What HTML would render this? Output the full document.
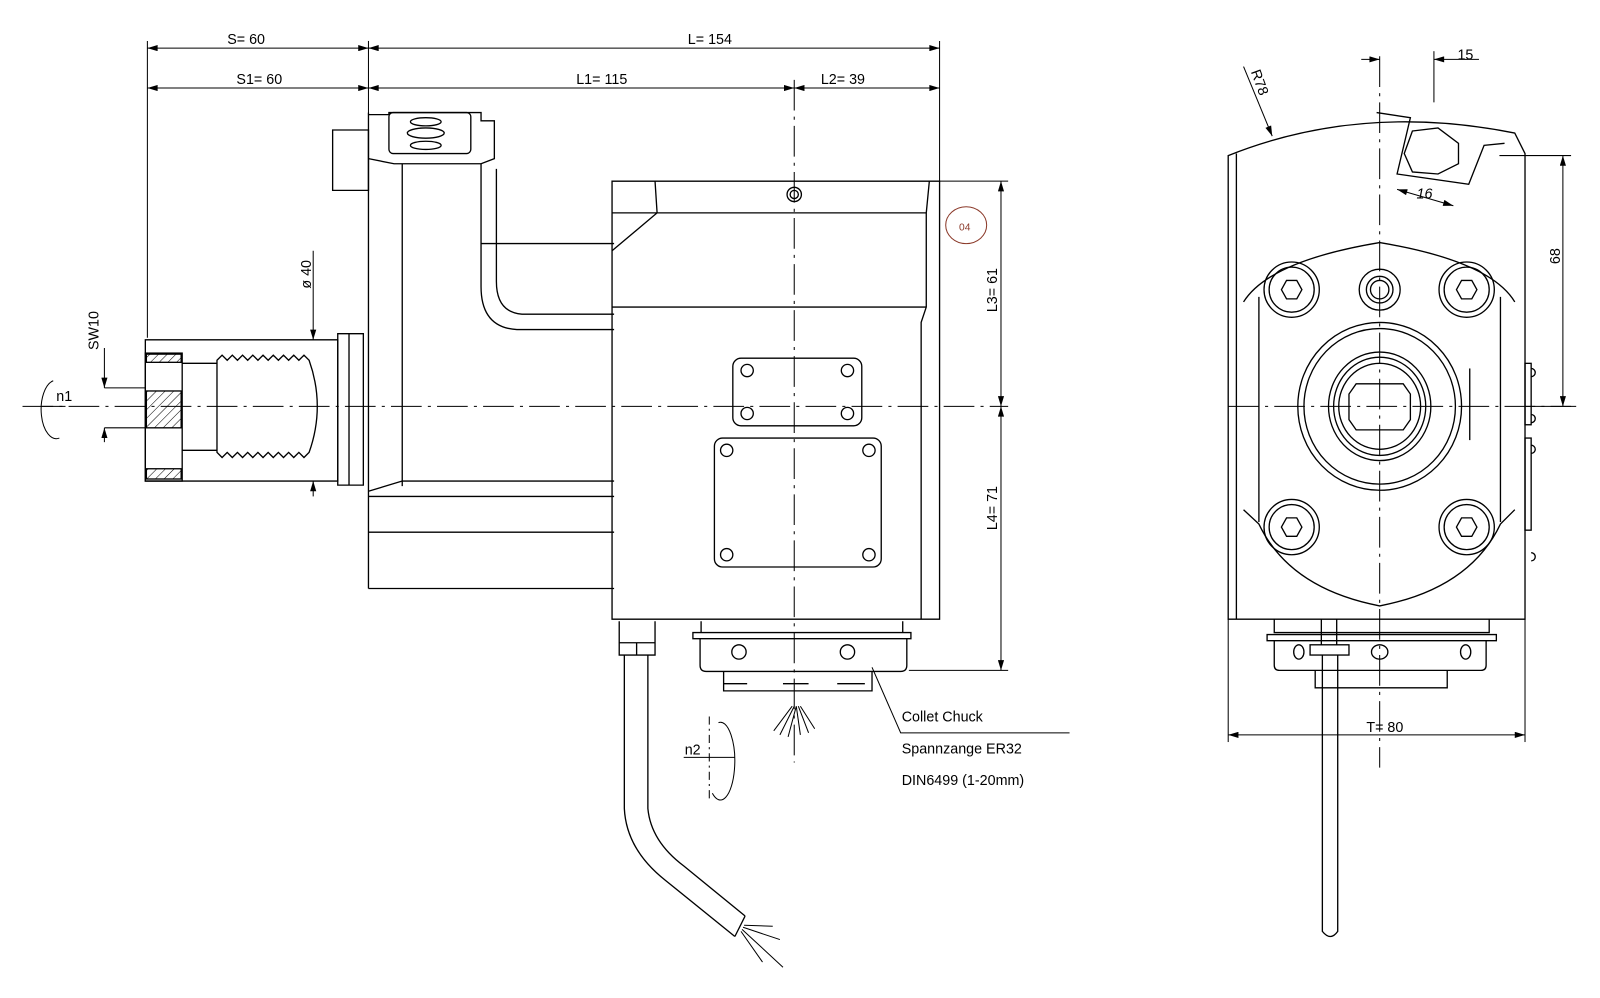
<!DOCTYPE html>
<html><head><meta charset="utf-8"><style>
html,body{margin:0;padding:0;background:#fff;}
svg{display:block;font-family:"Liberation Sans",sans-serif;}
</style></head><body>
<svg width="1600" height="998" viewBox="0 0 1600 998" xmlns="http://www.w3.org/2000/svg">
<defs>
<marker id="a" viewBox="0 0 10 6" refX="10" refY="3" markerWidth="14" markerHeight="6" orient="auto-start-reverse" markerUnits="userSpaceOnUse"><path d="M0,0L10,3L0,6z" fill="#000"/></marker>
<pattern id="h" width="6" height="6" patternUnits="userSpaceOnUse" patternTransform="rotate(45)"><line x1="0" y1="0" x2="0" y2="6" stroke="#000" stroke-width="1"/></pattern>
</defs>
<g transform="scale(1.0235)">
<g fill="none" stroke="#000" stroke-width="1.3">
<line x1="144" y1="40" x2="144" y2="330" stroke-width="1"/>
<line x1="360" y1="40" x2="360" y2="112" stroke-width="1"/>
<line x1="918" y1="40" x2="918" y2="178" stroke-width="1"/>
<line x1="144" y1="47" x2="360" y2="47" marker-start="url(#a)" marker-end="url(#a)" stroke-width="1"/>
<line x1="360" y1="47" x2="918" y2="47" marker-start="url(#a)" marker-end="url(#a)" stroke-width="1"/>
<line x1="144" y1="86" x2="360" y2="86" marker-start="url(#a)" marker-end="url(#a)" stroke-width="1"/>
<line x1="360" y1="86" x2="776" y2="86" marker-start="url(#a)" marker-end="url(#a)" stroke-width="1"/>
<line x1="776" y1="86" x2="918" y2="86" marker-start="url(#a)" marker-end="url(#a)" stroke-width="1"/>
<line x1="776" y1="78" x2="776" y2="745" stroke-dasharray="30,6,3,6" stroke-width="1"/>
<line x1="22" y1="397" x2="985" y2="397" stroke-dasharray="30,6,3,6" stroke-width="1"/>
<path d="M142,332 H330 V470 H142 Z"/>
<path d="M330,326 H355 V474 H330 Z"/><line x1="341" y1="326" x2="341" y2="474"/>
<rect x="142" y="345" width="36" height="125"/>
<rect x="143" y="382" width="34" height="36" fill="url(#h)"/>
<rect x="143" y="346" width="34" height="8" fill="url(#h)"/>
<rect x="143" y="458" width="34" height="10" fill="url(#h)"/>
<path d="M178,355 H212 M178,440 H212"/>
<path d="M212,352 L217,347 222,352 227,347 232,352 237,347 242,352 247,347 252,352 257,347 262,352 267,347 272,352 277,347 282,352 287,347 292,352 297,347 302,352 Q318,397 302,442 L297,447 292,442 287,447 282,442 277,447 272,442 267,447 262,442 257,447 252,442 247,447 242,442 237,447 232,442 227,447 222,442 217,447 212,442 Z"/>
<line x1="102" y1="379" x2="142" y2="379" stroke-width="1"/><line x1="102" y1="418" x2="142" y2="418" stroke-width="1"/>
<line x1="102" y1="340" x2="102" y2="379" marker-end="url(#a)" stroke-width="1"/>
<line x1="102" y1="432" x2="102" y2="418" marker-end="url(#a)" stroke-width="1"/>
<line x1="306" y1="245" x2="306" y2="332" marker-end="url(#a)" stroke-width="1"/>
<line x1="306" y1="485" x2="306" y2="470" marker-end="url(#a)" stroke-width="1"/>
<path d="M52,372 A14,27 0 1,0 58,428" stroke-width="1"/>
<line x1="40" y1="397" x2="64" y2="397" stroke-width="1"/>
<line x1="360" y1="110" x2="360" y2="575"/>
<path d="M360,112 H380 V110 H470 V118 H483 V155 L470,160 H385 L360,155"/>
<rect x="380" y="110" width="80" height="40" rx="4"/>
<ellipse cx="416" cy="119" rx="15" ry="4"/><ellipse cx="416" cy="130" rx="18" ry="5"/><ellipse cx="416" cy="142" rx="15" ry="4"/>
<path d="M325,127 H360 V186 H325 Z"/>
<path d="M393,160 V475 M470,160 V280 Q470,320 505,322 H600 M485,165 V275 Q485,305 510,307 H600"/>
<path d="M470,238 H600"/>
<path d="M360,480 L393,470 H600 M360,485 H600 M360,520 H600 M360,575 H600"/>
<path d="M598,177 H918 V605 H598 Z"/>
<path d="M598,208 H905 M640,177 L642,208 L598,245 M908,177 L905,208 V300 L900,315 V605"/>
<path d="M598,300 H905"/>
<rect x="716" y="350" width="126" height="66" rx="8"/>
<circle cx="730" cy="362" r="6"/><circle cx="828" cy="362" r="6"/><circle cx="730" cy="404" r="6"/><circle cx="828" cy="404" r="6"/>
<rect x="698" y="428" width="163" height="126" rx="8"/>
<circle cx="710" cy="440" r="6"/><circle cx="849" cy="440" r="6"/><circle cx="710" cy="542" r="6"/><circle cx="849" cy="542" r="6"/>
<circle cx="776" cy="190" r="7"/><circle cx="776" cy="190" r="4"/>
<path d="M685,607 V618 H882 V607 M677,618 H890 V624 H677 Z M684,624 V650 Q684,656 690,656 H880 Q886,656 886,650 V624"/>
<circle cx="722" cy="637" r="7"/><circle cx="828" cy="637" r="7"/>
<path d="M707,656 V675 H852 V656 M707,668 H730 M765,668 H790 M818,668 H845"/>
<path d="M762,718 L776,690 M770,720 L778,690 M782,718 L778,690 M790,716 L780,690 M756,714 L774,690 M796,712 L782,690" stroke-width="1"/>
<path d="M852,652 L880,716 H1045" stroke-width="1"/>
<line x1="918" y1="177" x2="985" y2="177" stroke-width="1"/>
<line x1="888" y1="655" x2="985" y2="655" stroke-width="1"/>
<line x1="978" y1="177" x2="978" y2="397" marker-start="url(#a)" marker-end="url(#a)" stroke-width="1"/>
<line x1="978" y1="397" x2="978" y2="655" marker-start="url(#a)" marker-end="url(#a)" stroke-width="1"/>
<ellipse cx="944" cy="220" rx="20" ry="18" stroke="#8b3a2a" stroke-width="1"/>
<path d="M605,607 V628 H640 V607 M605,628 V640 H640 V628 M622,628 V640"/>
<path d="M610,640 V790 Q612,830 650,860 L718,915 M633,640 V790 Q636,822 668,846 L728,895"/>
<path d="M718,915 L728,895" />
<path d="M725,908 L765,945 M726,906 L762,918 M727,904 L755,905 M724,910 L745,940" stroke-width="1"/>
<path d="M702,706 A14,38 0 1,1 696,775" stroke-width="1"/>
<line x1="693" y1="700" x2="693" y2="780" stroke-dasharray="8,4,2,4" stroke-width="1"/>
<line x1="668" y1="740" x2="718" y2="740" stroke-width="1"/>
<path d="M1200,152 Q1330,100 1480,130 L1490,150 V605 H1200 Z"/>
<line x1="1208" y1="150" x2="1208" y2="605"/>
<path d="M1345,110 L1378,115 1365,170 1435,180 1450,142 1470,140"/>
<polygon points="1380,128 1405,125 1425,140 1425,160 1405,170 1380,168 1372,150"/>
<line x1="1348" y1="55" x2="1348" y2="750" stroke-dasharray="30,6,3,6" stroke-width="1"/>
<line x1="1200" y1="397" x2="1540" y2="397" stroke-dasharray="30,6,3,6" stroke-width="1"/>
<path d="M1215,295 Q1240,255 1348,237 Q1456,255 1480,295 M1215,498 L1230,512 Q1260,575 1348,592 Q1436,575 1466,512 L1480,498" />
<path d="M1230,290 V510 M1466,290 V510"/>
<g>
<circle cx="1262" cy="283" r="27"/><circle cx="1262" cy="283" r="22"/><polygon points="1252,283 1257,274 1267,274 1272,283 1267,292 1257,292"/>
<circle cx="1433" cy="283" r="27"/><circle cx="1433" cy="283" r="22"/><polygon points="1423,283 1428,274 1438,274 1443,283 1438,292 1428,292"/>
<circle cx="1262" cy="515" r="27"/><circle cx="1262" cy="515" r="22"/><polygon points="1252,515 1257,506 1267,506 1272,515 1267,524 1257,524"/>
<circle cx="1433" cy="515" r="27"/><circle cx="1433" cy="515" r="22"/><polygon points="1423,515 1428,506 1438,506 1443,515 1438,524 1428,524"/>
<circle cx="1348" cy="283" r="20"/><circle cx="1348" cy="283" r="13"/><circle cx="1348" cy="283" r="9"/>
</g>
<ellipse cx="1348" cy="397" rx="80" ry="82"/><ellipse cx="1348" cy="397" rx="74" ry="76"/>
<ellipse cx="1348" cy="397" rx="50" ry="53"/><ellipse cx="1348" cy="397" rx="45" ry="48"/><ellipse cx="1348" cy="397" rx="40" ry="42"/>
<path d="M1325,375 H1371 L1378,385 V410 L1371,420 H1325 L1318,410 V385 Z"/>
<line x1="1436" y1="360" x2="1436" y2="430"/>
<rect x="1490" y="355" width="6" height="60"/><rect x="1490" y="428" width="6" height="90"/>
<path d="M1496,360 a4,4 0 0,1 0,8 M1496,405 a4,4 0 0,1 0,8 M1496,435 a4,4 0 0,1 0,8 M1496,540 a4,4 0 0,1 0,8"/>
<path d="M1245,605 V618 H1455 V605 M1238,620 H1462 V626 H1238 Z M1245,626 V650 Q1245,655 1250,655 H1447 Q1452,655 1452,650 V626"/>
<ellipse cx="1269" cy="637" rx="5" ry="7"/><ellipse cx="1348" cy="637" rx="8" ry="7"/><ellipse cx="1432" cy="637" rx="5" ry="7"/>
<path d="M1285,655 V672 H1414 V655"/>
<rect x="1280" y="630" width="38" height="10"/>
<path d="M1291,605 V630 M1306,605 V630 M1292,640 V910 Q1300,920 1307,910 V640"/>
<line x1="1200" y1="605" x2="1200" y2="725" stroke-width="1"/><line x1="1490" y1="605" x2="1490" y2="725" stroke-width="1"/>
<line x1="1200" y1="718" x2="1490" y2="718" marker-start="url(#a)" marker-end="url(#a)" stroke-width="1"/>
<line x1="1465" y1="152" x2="1535" y2="152" stroke-width="1"/><line x1="1490" y1="397" x2="1535" y2="397" stroke-width="1"/>
<line x1="1527" y1="152" x2="1527" y2="397" marker-start="url(#a)" marker-end="url(#a)" stroke-width="1"/>
<line x1="1401" y1="50" x2="1401" y2="100" stroke-width="1"/>
<line x1="1330" y1="58" x2="1348" y2="58" marker-end="url(#a)" stroke-width="1"/>
<line x1="1445" y1="58" x2="1401" y2="58" marker-end="url(#a)" stroke-width="1"/>
<line x1="1215" y1="65" x2="1243" y2="133" marker-end="url(#a)" stroke-width="1"/>
<line x1="1365" y1="185" x2="1420" y2="201" marker-start="url(#a)" marker-end="url(#a)" stroke-width="1"/>
</g>
<g font-size="14" fill="#000">
<text x="222" y="43">S= 60</text>
<text x="672" y="43">L= 154</text>
<text x="231" y="82">S1= 60</text>
<text x="563" y="82">L1= 115</text>
<text x="802" y="82">L2= 39</text>
<text transform="translate(304,282) rotate(-90)">ø 40</text>
<text transform="translate(96,342) rotate(-90)">SW10</text>
<text x="55" y="392">n1</text>
<text transform="translate(974,305) rotate(-90)">L3= 61</text>
<text transform="translate(974,518) rotate(-90)">L4= 71</text>
<text x="937" y="225" font-size="10" fill="#8b3a2a">04</text>
<text x="881" y="705">Collet Chuck</text>
<text x="881" y="736">Spannzange ER32</text>
<text x="881" y="767">DIN6499 (1-20mm)</text>
<text x="669" y="737">n2</text>
<text x="1335" y="715">T=  80</text>
<text transform="translate(1524,258) rotate(-90)">68</text>
<text x="1424" y="58">15</text>
<text x="1384" y="194" font-style="italic">16</text>
<text transform="translate(1222,70) rotate(70)">R78</text>
</g>
</g>
</svg>
</body></html>
